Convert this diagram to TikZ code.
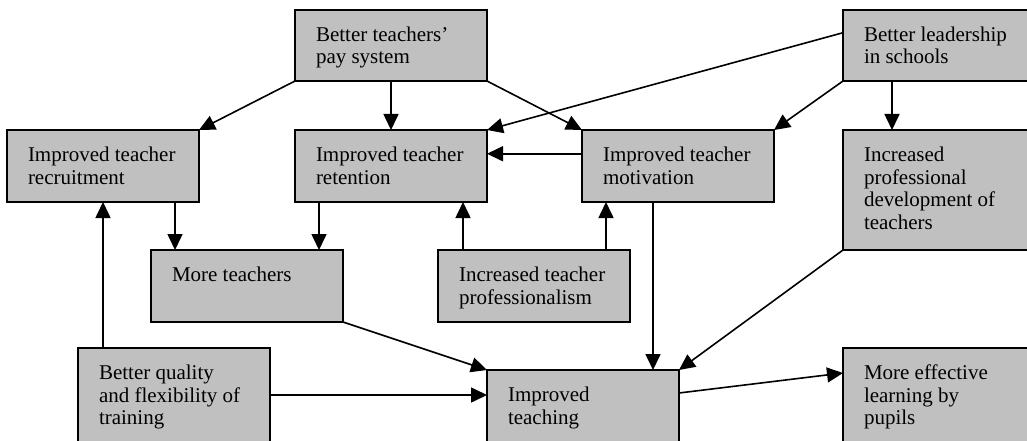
\documentclass[tikz,border=0pt]{standalone}
\usepackage{fontspec}
\setmainfont{Liberation Serif}
\usetikzlibrary{arrows.meta,calc}
\definecolor{boxgray}{RGB}{192,192,192}
% box contents: fixed height, text set from the top-left with a small inset
\newcommand\cell[2]{\parbox[c][#1][t]{192pt}{\raggedright\leftskip=21pt\parindent=0pt
  \fontsize{21pt}{22.5pt}\selectfont\rule{0pt}{31.5pt}#2}}
\tikzset{
  cbox/.style={draw=black, fill=boxgray, line width=1.8pt, inner sep=0pt,
    outer sep=0pt, anchor=north west},
  arr/.style={line width=1.6pt, -{Triangle[length=16pt,width=15pt]}},
}
\begin{document}
\begin{tikzpicture}[x=1pt,y=-1pt]
\useasboundingbox (0,0) rectangle (1027,441);
\clip (0,0) rectangle (1027,441);

% boxes
\node[cbox] (pay)   at (295,10)  {\cell{71pt}{Better teachers’\\pay system}};
\node[cbox] (lead)  at (843,10)  {\cell{71pt}{Better leadership\\in schools}};
\node[cbox] (recr)  at (7,130)   {\cell{72pt}{Improved teacher\\recruitment}};
\node[cbox] (ret)   at (295,130) {\cell{72pt}{Improved teacher\\retention}};
\node[cbox] (mot)   at (582,130) {\cell{72pt}{Improved teacher\\motivation}};
\node[cbox] (dev)   at (843,130) {\cell{120pt}{Increased\\professional\\development of\\teachers}};
\node[cbox] (more)  at (151,250) {\cell{72pt}{More teachers}};
\node[cbox] (prof)  at (438,250) {\cell{72pt}{Increased teacher\\professionalism}};
\node[cbox] (train) at (78,348)  {\cell{120pt}{Better quality\\and flexibility of\\training}};
\node[cbox] (teach) at (487,370) {\cell{100pt}{Improved\\teaching}};
\node[cbox] (learn) at (843,348) {\cell{120pt}{More effective\\learning by\\pupils}};

% connectors
\draw[arr] (pay.south west) -- (recr.north east);
\draw[arr] (pay.south) -- (ret.north);
\draw[arr] (pay.south east) -- (mot.north west);
\draw[arr] ($(lead.north west)!0.32!(lead.south west)$) -- (ret.north east);
\draw[arr] (lead.south west) -- (mot.north east);
\draw[arr] ($(lead.south west)+(49,0)$) -- ($(dev.north west)+(49,0)$);
\coordinate (mw) at ($(mot.north west)!0.33!(mot.south west)$);
\draw[arr] (mw) -- (mw -| ret.east);
\coordinate (m1) at ($(more.north west)+(24,0)$);
\draw[arr] (m1 |- recr.south) -- (m1);
\coordinate (m2) at ($(more.north west)+(168,0)$);
\draw[arr] (m2 |- ret.south) -- (m2);
\coordinate (p1) at ($(prof.north west)+(25,0)$);
\draw[arr] (p1) -- (p1 |- ret.south);
\coordinate (p2) at ($(prof.north west)+(168,0)$);
\draw[arr] (p2) -- (p2 |- mot.south);
\coordinate (t1) at ($(train.north west)+(25,0)$);
\draw[arr] (t1) -- (t1 |- recr.south);
\coordinate (m3) at ($(mot.south west)+(71,0)$);
\draw[arr] (m3) -- (m3 |- teach.north);
\draw[arr] (more.south east) -- (teach.north west);
\coordinate (t2) at ($(train.north east)+(0,47)$);
\draw[arr] (t2) -- (t2 -| teach.west);
\draw[arr] (dev.south west) -- (teach.north east);
\draw[arr] ($(teach.north east)+(0,23)$) -- ($(learn.north west)+(0,25)$);
\end{tikzpicture}
\end{document}
